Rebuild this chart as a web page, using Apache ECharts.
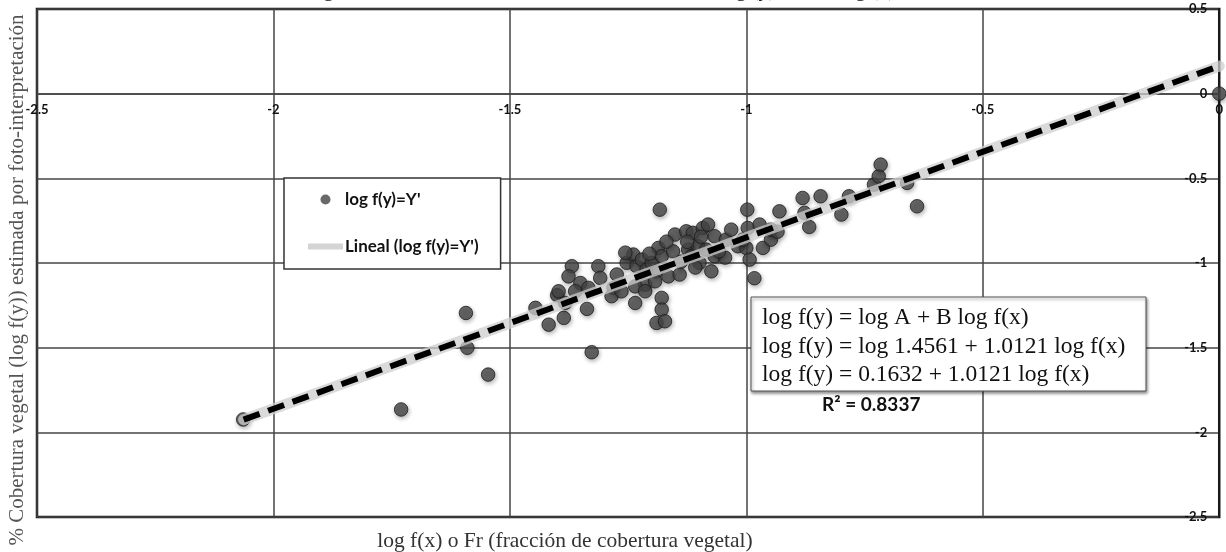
<!DOCTYPE html>
<html>
<head>
<meta charset="utf-8">
<script src="https://cdn.jsdelivr.net/npm/echarts@6/dist/echarts.min.js"></script>
<style>html,body{margin:0;padding:0;background:#fff}#c{width:1226px;height:552px}</style>
</head>
<body>
<div id="c"></div>
<script>
// ---- data ----
const xTicks = [-2.5, -2, -1.5, -1, -0.5, 0];
const yTicks = [0.5, 0, -0.5, -1, -1.5, -2, -2.5];
const pointsX = [
  -2.064, -1.730, -1.593, -1.590, -1.546, -1.327, -1.446, -1.418, -1.386, -1.337,
  -1.400, -1.397, -1.383, -1.369, -1.376, -1.351, -1.362, -1.313, -1.309, -1.334,
  -1.235, -1.274, -1.281, -1.285, -1.264, -1.253, -1.239, -1.232, -1.221, -1.211,
  -1.200, -1.190, -1.214, -1.235, -1.214, -1.193, -1.179, -1.179, -1.190, -1.172,
  -1.186, -1.179, -1.165, -1.141, -1.155, -1.151, -1.127, -1.113, -1.123, -1.116,
  -1.102, -1.099, -1.092, -1.081, -1.085, -1.074, -1.067, -1.067, -1.043, -1.032,
  -1.018, -1.000, -0.997, -0.998, -0.993, -0.983, -0.972, -0.965, -0.948, -0.948,
  -0.930, -0.934, -0.881, -0.867, -0.877, -0.843, -0.799, -0.783, -0.730, -0.720,
  -0.716, -0.660, -0.639, 0.000, -1.183, -1.256, -1.138, -1.169, -1.045, -1.007,
  -1.108, -1.096, -1.058, -1.125, -1.205
];
const pointsY = [
  -1.924, -1.865, -1.295, -1.501, -1.659, -1.527, -1.265, -1.364, -1.324, -1.271,
  -1.190, -1.167, -1.236, -1.019, -1.079, -1.118, -1.167, -1.019, -1.088, -1.147,
  -1.236, -1.068, -1.147, -1.196, -1.167, -0.999, -0.950, -1.019, -0.980, -1.039,
  -0.999, -1.049, -1.128, -1.138, -1.167, -1.108, -1.206, -1.275, -1.354, -1.344,
  -0.911, -0.960, -1.079, -1.068, -0.931, -0.832, -0.813, -0.822, -0.921, -0.960,
  -0.901, -0.999, -0.793, -0.773, -0.921, -1.049, -0.960, -0.842, -0.862, -0.803,
  -0.901, -0.911, -0.793, -0.685, -0.980, -1.090, -0.773, -0.911, -0.862, -0.803,
  -0.695, -0.815, -0.616, -0.787, -0.704, -0.606, -0.714, -0.606, -0.537, -0.488,
  -0.419, -0.527, -0.665, 0.000, -0.685, -0.939, -0.992, -0.874, -0.968, -0.862,
  -1.027, -0.845, -0.930, -0.875, -0.945
];
const trendX = [-2.063, 0];
const trendY = [-1.925, 0.163];
const scatterName = "log f(y)=Y'";
const trendName = "Lineal (log f(y)=Y')";
const titleText = "Regresión lineal entre los datos transformados de log (y) contra log (x)";
const xTitle = "log f(x) o Fr (fracción de cobertura vegetal)";
const yTitle = "% Cobertura vegetal (log f(y)) estimada por foto-interpretación";
const eqLines = [
  "log f(y) = log A + B log f(x)",
  "log f(y) = log 1.4561 + 1.0121 log f(x)",
  "log f(y) = 0.1632 + 1.0121 log f(x)"
];
const r2Text = "R² = 0.8337";

const scatterData = pointsX.map((x, i) => [x, pointsY[i]]);
const trendData = trendX.map((x, i) => [x, trendY[i]]);

const W = 1226, H = 552;
const gridTop = 9, gridBottom = 35;
const plotH = H - gridTop - gridBottom;
// move the x axis up so it crosses y = 0 (y range 0.5 .. -2.5)
const xAxisOffset = -(plotH * (0 - (-2.5)) / (0.5 - (-2.5)));

const chart = echarts.init(document.getElementById('c'));
const labelFont = {fontFamily: 'Lato', fontWeight: 'bold', fontSize: 13, color: '#111'};
const serif = '"Liberation Serif", "DejaVu Serif", serif';

chart.setOption({
  backgroundColor: '#fff',
  animation: false,
  grid: {left: 37, right: 3, top: gridTop, bottom: gridBottom, show: true, borderColor: '#111', borderWidth: 2.5, backgroundColor: '#fff'},
  xAxis: {
    type: 'value', min: -2.5, max: 0, interval: 0.5, position: 'bottom', offset: xAxisOffset,
    axisLine: {onZero: false, lineStyle: {color: '#444', width: 1.5}},
    axisTick: {show: false},
    splitLine: {show: true, lineStyle: {color: '#444', width: 1.5}},
    axisLabel: Object.assign({margin: 10, showMinLabel: true, showMaxLabel: true, formatter: v => String(v)}, labelFont)
  },
  yAxis: {
    type: 'value', min: -2.5, max: 0.5, interval: 0.5, position: 'right',
    axisLine: {onZero: false, lineStyle: {color: '#111', width: 1.5}},
    axisTick: {show: false},
    splitLine: {show: true, lineStyle: {color: '#444', width: 1.5}},
    axisLabel: Object.assign({inside: true, margin: 12, showMinLabel: true, showMaxLabel: true, formatter: v => String(v)}, labelFont)
  },
  legend: {
    left: 284, top: 178, orient: 'vertical',
    padding: [13, 22, 14, 24], itemGap: 30,
    itemWidth: 35, itemHeight: 10,
    borderColor: '#333', borderWidth: 1.5, backgroundColor: '#fff',
    textStyle: {fontFamily: 'Lato', fontWeight: 'bold', fontSize: 17, color: '#111', padding: [0, 0, 0, -3]},
    data: [
      {name: scatterName, icon: 'circle', itemStyle: {color: '#444', borderWidth: 0}},
      {name: trendName, icon: 'path://M0,0 L35,0 L35,6 L0,6 Z', itemStyle: {color: '#d4d4d4'}}
    ]
  },
  graphic: [
    {type: 'text', left: 300, top: -20, z: 10, style: {text: titleText, font: '21px ' + serif, fill: '#111'}},
    {type: 'text', x: 565, y: 541, z: 10, style: {text: xTitle, font: '21.5px ' + serif, fill: '#333', align: 'center', verticalAlign: 'middle'}},
    {type: 'text', x: 17, y: 280, rotation: Math.PI / 2, z: 10, style: {text: yTitle, font: '21px ' + serif, fill: '#555', align: 'center', verticalAlign: 'middle'}},
    {type: 'rect', z: 20, shape: {x: 751, y: 297, width: 395, height: 94},
      style: {fill: '#fff', stroke: '#555', lineWidth: 1, shadowColor: 'rgba(0,0,0,0.45)', shadowBlur: 3, shadowOffsetX: 1, shadowOffsetY: 2}},
    {type: 'text', x: 762, y: 318, z: 21, style: {text: eqLines[0], font: '23.5px ' + serif, fill: '#111', verticalAlign: 'middle'}},
    {type: 'text', x: 762, y: 347, z: 21, style: {text: eqLines[1], font: '23.5px ' + serif, fill: '#111', verticalAlign: 'middle'}},
    {type: 'text', x: 762, y: 375, z: 21, style: {text: eqLines[2], font: '23.5px ' + serif, fill: '#111', verticalAlign: 'middle'}},
    {type: 'text', x: 822, y: 405, z: 21, style: {text: r2Text, font: 'bold 19px Lato', fill: '#111', verticalAlign: 'middle'}}
  ],
  series: [
    {
      name: scatterName, type: 'scatter', data: scatterData, symbolSize: 13.5, z: 2,
      itemStyle: {color: '#474747', borderColor: '#1c1c1c', borderWidth: 1,
        shadowColor: 'rgba(0,0,0,0.35)', shadowBlur: 4, shadowOffsetX: 1, shadowOffsetY: 2}
    },
    {
      name: trendName, type: 'line', data: trendData, showSymbol: false, symbol: 'none', z: 3,
      lineStyle: {color: 'rgba(205,205,205,0.75)', width: 11, cap: 'round'},
      itemStyle: {color: '#d4d4d4'}
    },
    {
      name: 'trend-dash', type: 'line', data: trendData, showSymbol: false, symbol: 'none', z: 4,
      lineStyle: {color: '#000', width: 6, type: [17, 9]}
    }
  ]
});
</script>
</body>
</html>
